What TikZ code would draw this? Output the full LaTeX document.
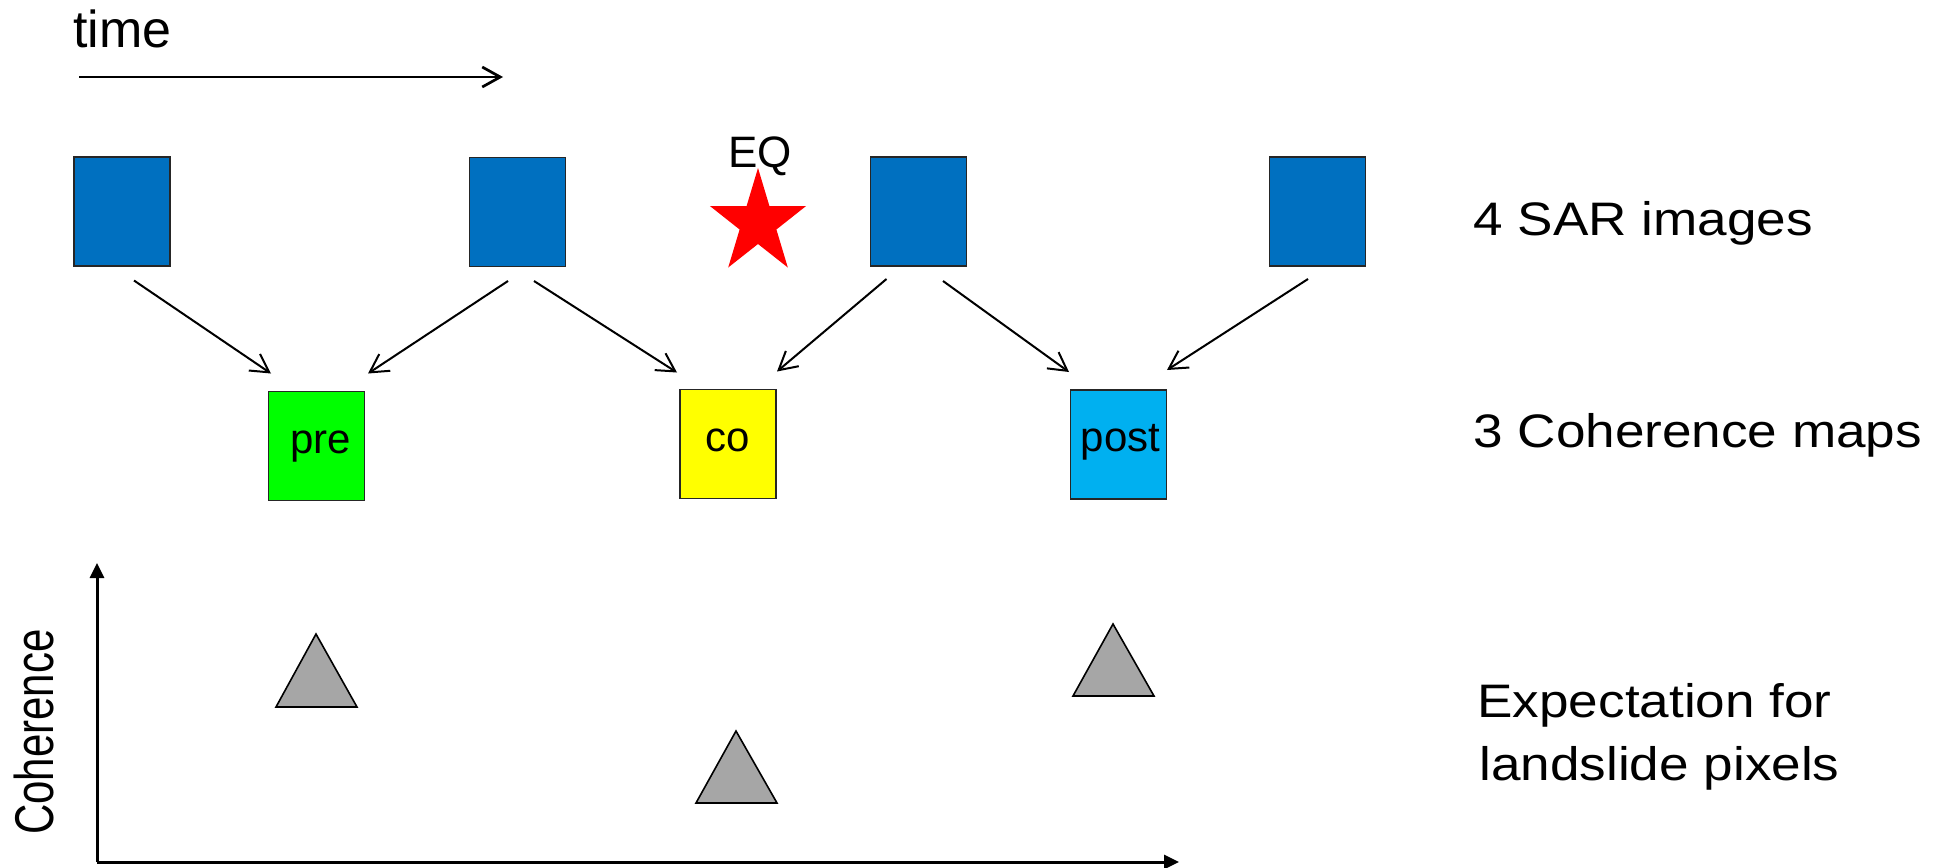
\documentclass[tikz,border=0pt]{standalone}
\usepackage{fontspec}
\setmainfont{Liberation Sans}
\newfontfamily\widefont{Liberation Sans}[FakeStretch=1.13]
\usetikzlibrary{arrows.meta,calc}
\definecolor{sarblue}{HTML}{0070C0}
\definecolor{pregreen}{HTML}{00FF00}
\definecolor{coyellow}{HTML}{FFFF00}
\definecolor{postblue}{HTML}{00B0F0}
\definecolor{trigray}{HTML}{A6A6A6}
\definecolor{starred}{HTML}{FF0000}
\tikzset{
  imgbox/.style={draw=black!85, line width=0.7pt, fill=sarblue, inner sep=0pt, outer sep=0pt,
    minimum width=48pt, minimum height=54.5pt},
  cohbox/.style={draw=black!85, line width=0.7pt, inner sep=0pt, outer sep=0pt,
    minimum width=48pt, minimum height=54.5pt, text height=7pt, text depth=0pt,
    font=\fontsize{21pt}{24pt}\selectfont},
  conn/.style={line width=1pt, -{Straight Barb[length=9pt,width=10pt]}},
  timearrow/.style={line width=1.35pt, -{Straight Barb[length=9pt,width=10pt]}},
  axis/.style={line width=1.5pt, -{Triangle[length=7.5pt,width=7pt]}},
  tri/.style={draw=black, line width=0.8pt, fill=trigray, line join=miter},
  rlabel/.style={anchor=base west, inner sep=0pt, font=\widefont\fontsize{23.5pt}{27pt}\selectfont},
}
\begin{document}
\begin{tikzpicture}[x=0.5pt, y=-0.5pt]
\useasboundingbox (0,0) rectangle (1942,867);

% time label and arrow
\node[anchor=base west, inner sep=0pt, font=\fontsize{26pt}{30pt}\selectfont] (timelbl) at (73,47) {time};
\coordinate (t0) at (79,77);
\coordinate (t1) at (503,77);
\draw[timearrow] (t0) -- (t1);

% SAR images
\node[imgbox] (b1) at (122,211.5) {};
\node[imgbox] (b2) at (517.5,212) {};
\node[imgbox] (b3) at (918.5,211.5) {};
\node[imgbox] (b4) at (1317.5,211.5) {};

% EQ star
\node[anchor=base west, inner sep=0pt, font=\fontsize{22pt}{26pt}\selectfont] (eq) at (728,167) {EQ};
\fill[starred] (758,168) -- (769.4,206) -- (806.1,206) -- (776.4,229.5) -- (787.8,267.5)
  -- (758,244) -- (728.2,267.5) -- (739.6,229.5) -- (709.9,206) -- (746.6,206) -- cycle;

% coherence maps
\node[cohbox, fill=pregreen] (pre) at (316.5,446) {\hspace*{4pt}pre};
\node[cohbox, fill=coyellow] (co) at (728,444) {co};
\node[cohbox, fill=postblue] (post) at (1118.5,444.5) {\hspace*{2pt}post};

% connectors
\draw[conn] ($(b1.south)+(12,14.5)$) -- ($(pre.north)+(-45.5,-18)$);
\draw[conn] ($(b2.south)+(-9.5,14.5)$) -- ($(pre.north)+(51.5,-18)$);
\draw[conn] ($(b2.south)+(16.5,14.5)$) -- ($(co.north)+(-51,-17)$);
\draw[conn] ($(b3.south)+(-32,13)$) -- ($(co.north)+(49,-18)$);
\draw[conn] ($(b3.south)+(24.5,15)$) -- ($(post.north)+(-49.5,-18)$);
\draw[conn] ($(b4.south)+(-9.5,13)$) -- ($(post.north)+(48.5,-20)$);

% right labels
\node[rlabel] (lsar) at (1473,235) {4 SAR images};
\node[rlabel] (lcoh) at (1473,447) {3 Coherence maps};
\node[rlabel] (lexp1) at (1477,717) {Expectation for};
\node[rlabel] (lexp2) at (1479,780) {landslide pixels};

% axes
\coordinate (origin) at (97,862);
\coordinate (ytop) at (97,563);
\coordinate (xend) at (1179,862);
\draw[axis] (origin) -- (ytop);
\draw[axis] (origin) -- (xend);
\node[anchor=base, rotate=90, inner sep=0pt, font=\fontsize{21pt}{24pt}\selectfont] (ylbl) at (53,732) {\scalebox{1}[1.3]{Coherence}};

% expectation triangles
\draw[tri] (276,707) -- (316,634) -- (357,707) -- cycle;
\draw[tri] (696,803) -- (736,731) -- (777,803) -- cycle;
\draw[tri] (1073,696) -- (1113,624) -- (1154,696) -- cycle;
\end{tikzpicture}
\end{document}
